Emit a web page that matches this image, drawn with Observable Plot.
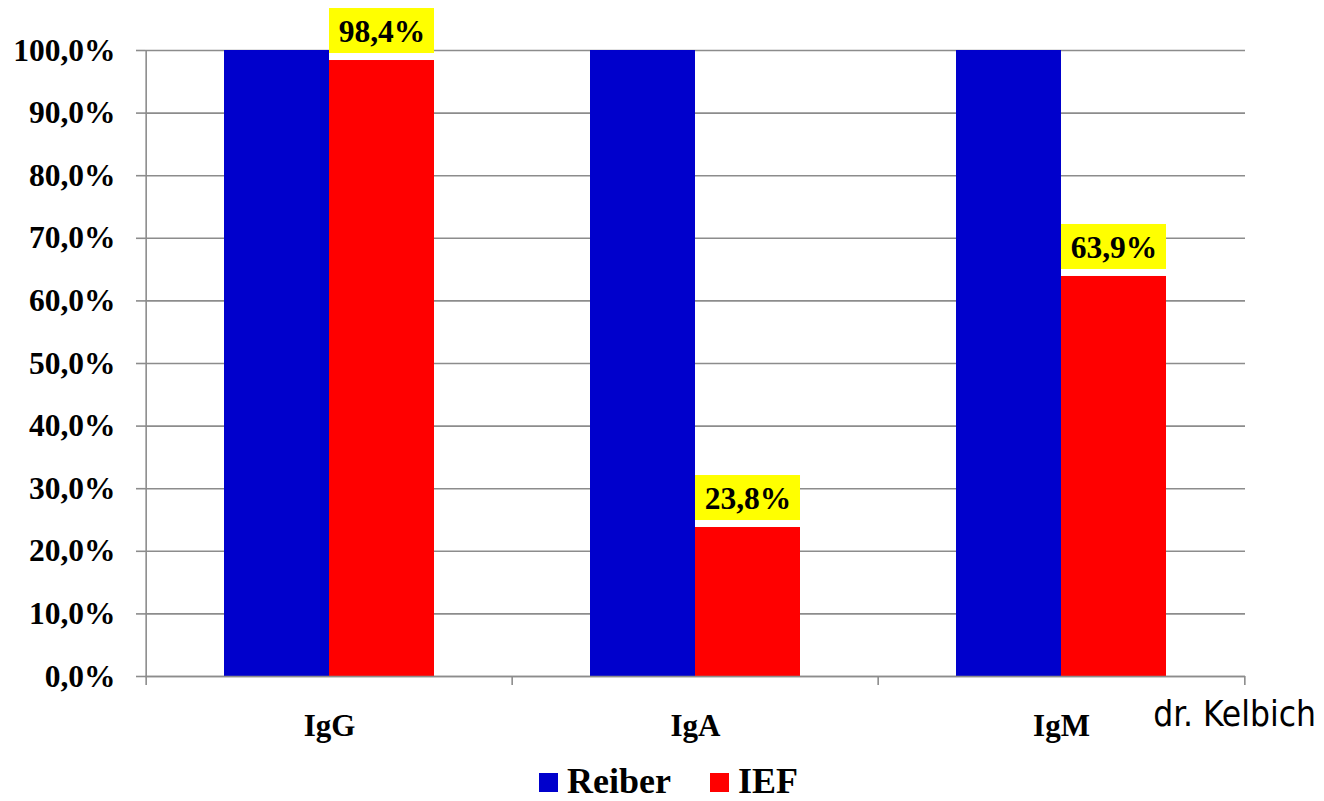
<!DOCTYPE html>
<html>
<head>
<meta charset="utf-8">
<script src="https://cdn.jsdelivr.net/npm/d3@7"></script>
<script src="https://cdn.jsdelivr.net/npm/@observablehq/plot@0.6"></script>
<style>
  html, body { margin: 0; padding: 0; background: #fff; }
  #wrap { position: relative; width: 1324px; height: 801px; }
  #legend { display: flex; justify-content: center; align-items: center; height: 40px; margin-top: 6px; line-height: 40px;
            font-family: "Liberation Serif", "Times New Roman", serif; font-weight: bold; font-size: 36px; padding-left: 13px; }
  .item { display: flex; align-items: center; margin: 0 19.5px; }
  .sw { width: 19px; height: 19px; margin-right: 9px; margin-top: 3px; }
  #credit { position: absolute; right: 8px; top: 697px; font-family: "DejaVu Sans Condensed", "DejaVu Sans", sans-serif; font-stretch: condensed; font-size: 35px; line-height: 1; }
</style>
</head>
<body>
<div id="wrap">
  <div id="chart"></div>
  <div id="legend"></div>
  <div id="credit">dr. Kelbich</div>
</div>
<script>
const categories = ["IgG", "IgA", "IgM"];
const seriesNames = ["Reiber", "IEF"];
const reiber = [100, 100, 100];
const ief = [98.4, 23.8, 63.9];
const yTicks = [0, 10, 20, 30, 40, 50, 60, 70, 80, 90, 100];
const colors = {Reiber: "#0000CC", IEF: "#FF0000"};

const rows = categories.map((c, i) => ({category: c, reiber: reiber[i], ief: ief[i]}));

const W = 1324, H = 755, mL = 145, mR = 79, mT = 50, mB = 79;
const step = (W - mL - mR) / categories.length;
const half = 105;
const fmt = d => d.toFixed(1).replace(".", ",") + "%";
const gray = "#8c8c8c";
const serif = "Liberation Serif";

const chart = Plot.plot({
  width: W, height: H,
  marginLeft: mL, marginRight: mR, marginTop: mT, marginBottom: mB,
  style: {fontFamily: serif, fontWeight: "bold", fontSize: "31px", color: "#000", background: "#fff"},
  x: {type: "band", domain: categories, paddingInner: 0.4273, paddingOuter: 0.21365},
  y: {domain: [0, 100]},
  marks: [
    Plot.gridY(yTicks, {stroke: gray, strokeOpacity: 1, strokeWidth: 1.6}),
    Plot.barY(rows, {x: "category", y: "reiber", fill: colors.Reiber, insetRight: half}),
    Plot.barY(rows, {x: "category", y: "ief", fill: colors.IEF, insetLeft: half}),
    Plot.barY(rows, {x: "category", y1: "ief", y2: "ief", fill: "#FFFF00", insetLeft: half, insetTop: -52, insetBottom: 7}),
    Plot.text(rows, {x: "category", y: "ief", text: d => fmt(d.ief), dx: half / 2, dy: -29, fontSize: 31.5, fontWeight: "bold", fill: "#000"}),
    Plot.ruleY([0], {stroke: gray, strokeWidth: 1.6}),
    Plot.ruleX(categories.slice(0, 1), {x: d => d, dx: -step / 2, y1: 100, y2: 0, insetBottom: -9, stroke: gray, strokeWidth: 1.6}),
    Plot.ruleX(categories.slice(1), {x: d => d, dx: -step / 2, y1: 0, y2: 0, insetBottom: -9, stroke: gray, strokeWidth: 1.6}),
    Plot.ruleX(categories.slice(-1), {x: d => d, dx: step / 2, y1: 0, y2: 0, insetBottom: -9, stroke: gray, strokeWidth: 1.6}),
    Plot.axisY({ticks: yTicks, tickFormat: fmt, tickSize: 9, tickPadding: 21, stroke: gray, strokeWidth: 1.6, strokeOpacity: 1, label: null, fontSize: 31.5}),
    Plot.axisX({tickSize: 0, tickPadding: 37, label: null, fontSize: 31})
  ]
});
document.getElementById("chart").appendChild(chart);

const legend = document.getElementById("legend");
seriesNames.forEach(name => {
  const item = document.createElement("div");
  item.className = "item";
  const sw = document.createElement("div");
  sw.className = "sw";
  sw.style.background = colors[name];
  const t = document.createElement("span");
  t.textContent = name;
  item.appendChild(sw);
  item.appendChild(t);
  legend.appendChild(item);
});
</script>
</body>
</html>
